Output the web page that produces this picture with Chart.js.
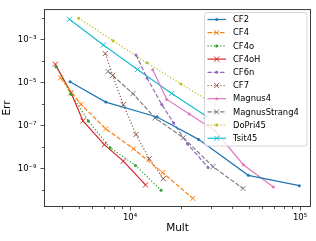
<!DOCTYPE html>
<html><head><meta charset="utf-8">
<script src="https://cdn.jsdelivr.net/npm/chart.js@4/dist/chart.umd.min.js"></script>
<style>html,body{margin:0;padding:0;background:#fff;}#c{display:block;}</style>
</head><body>
<canvas id="c" width="316" height="241"></canvas>
<script>
// ---- data ----
const seriesNames = ['CF2','CF4','CF4o','CF4oH','CF6n','CF7','Magnus4','MagnusStrang4','DoPri45','Tsit45'];
const cf2Mult  = [4437, 7196, 14417, 25293, 49640, 99060];
const cf2Err   = [1.1e-5, 1.24e-6, 2.53e-7, 2.3e-8, 4.93e-10, 1.63e-10];
const cf4Mult  = [3901, 5150, 7196, 10486, 15574, 23377];
const cf4Err   = [1.65e-5, 9.7e-7, 7.1e-8, 8.4e-9, 6.6e-10, 4.2e-11];
const cf4oMult = [3671, 4497, 5685, 7627, 10775, 15219];
const cf4oErr  = [5.29e-5, 2.88e-6, 1.66e-7, 9.53e-9, 1.42e-9, 1.01e-10];
const cf4oHMult= [3636, 4497, 5290, 7061, 9133, 12337];
const cf4oHErr = [7.1e-5, 3.38e-6, 1.66e-7, 1.31e-8, 2.24e-9, 1.77e-10];
const cf6nMult = [10847, 12589, 15364, 18027, 21785, 28765];
const cf6nErr  = [1.92e-4, 1.62e-5, 9.7e-7, 1.34e-7, 1.41e-8, 1.15e-9];
const cf7Mult  = [7147, 7912, 9133, 10847, 12970, 15701];
const cf7Err   = [2.2e-4, 2.15e-5, 9.3e-7, 3.89e-8, 2.88e-9, 3.48e-10];
const magnus4Mult = [13600, 16443, 22323, 31623, 46390, 69660];
const magnus4Err  = [3.93e-5, 1.65e-6, 3.47e-7, 5.76e-8, 1.53e-9, 1.43e-10];
const magnusStrang4Mult = [7424, 10414, 14033, 20583, 30770, 46200];
const magnusStrang4Err  = [3.28e-5, 3.04e-6, 2.28e-7, 2.75e-8, 1.24e-9, 1.21e-10];
const doPri45Mult = [4992, 7943, 12589, 19953, 31623];
const doPri45Err  = [9.6e-3, 8.7e-4, 8.24e-5, 8.57e-6, 9.5e-7];
const tsit45Mult  = [4396, 6966, 11069, 17592, 28000];
const tsit45Err   = [8.65e-3, 5.54e-4, 4.06e-5, 3.1e-6, 2.81e-7];
const xMajorTicks = [1e4, 1e5];
const yMajorTicks = [1e-3, 1e-5, 1e-7, 1e-9];
const xMinorTicks = [4e3,5e3,6e3,7e3,8e3,9e3,2e4,3e4,4e4,5e4,6e4,7e4,8e4,9e4];
const yMinorTicks = [1e-2,1e-4,1e-6,1e-8,1e-10];

// ---- styling ----
const colors = ['#1f77b4','#ff7f0e','#2ca02c','#d62728','#9467bd','#8c564b','#e377c2','#7f7f7f','#bcbd22','#17becf'];
const LW = 1.2;
const dashes = {solid: [], dashed: [4.4, 1.9], dotted: [1.2, 2.0]};
const styles = ['solid','dashed','dotted','solid','dashed','dotted','solid','dashed','dotted','solid'];
const markers = ['dot','x','dot','x','dot','x','dot','x','dot','x'];
const xs = [cf2Mult, cf4Mult, cf4oMult, cf4oHMult, cf6nMult, cf7Mult, magnus4Mult, magnusStrang4Mult, doPri45Mult, tsit45Mult];
const ys = [cf2Err, cf4Err, cf4oErr, cf4oHErr, cf6nErr, cf7Err, magnus4Err, magnusStrang4Err, doPri45Err, tsit45Err];

function pointOpts(m, c) {
  if (m === 'dot') return {pointStyle:'circle', pointRadius:1.5, pointBackgroundColor:c, pointBorderColor:c, pointBorderWidth:0};
  return {pointStyle:'crossRot', pointRadius:3.6, pointBackgroundColor:c, pointBorderColor:c, pointBorderWidth:1.0};
}

const datasets = seriesNames.map((n, i) => Object.assign({
  label: n,
  data: xs[i].map((x, j) => ({x: x, y: ys[i][j]})),
  borderColor: colors[i],
  backgroundColor: colors[i],
  borderWidth: LW,
  borderDash: dashes[styles[i]],
  tension: 0,
  fill: false
}, pointOpts(markers[i], colors[i])));

const sup = {'-':'⁻','0':'⁰','1':'¹','2':'²','3':'³','4':'⁴','5':'⁵','6':'⁶','7':'⁷','8':'⁸','9':'⁹'};
function powLabel(v) {
  const e = Math.round(Math.log10(v));
  return '10' + String(e).split('').map(ch => sup[ch]).join('');
}

const FONT = 'DejaVu Sans';

const framePlugin = {
  id: 'frame',
  afterDraw(chart) {
    const ctx = chart.ctx, a = chart.chartArea;
    const xS = chart.scales.x, yS = chart.scales.y;
    ctx.save();
    ctx.strokeStyle = '#262626';
    ctx.lineWidth = 0.8;
    // minor ticks
    ctx.beginPath();
    xMinorTicks.forEach(v => {
      const p = Math.round(xS.getPixelForValue(v)) + 0.5;
      ctx.moveTo(p, a.bottom); ctx.lineTo(p, a.bottom + 2);
    });
    yMinorTicks.forEach(v => {
      const p = Math.round(yS.getPixelForValue(v)) + 0.5;
      ctx.moveTo(a.left, p); ctx.lineTo(a.left - 2, p);
    });
    ctx.stroke();
    // spines
    ctx.lineWidth = 0.9;
    ctx.strokeRect(a.left + 0.5, a.top + 0.5, a.right - a.left - 1, a.bottom - a.top - 1);
    // legend
    const lx = 204.5, ly = 12.5, lw = 102.5, lh = 133.5, r = 2.5;
    ctx.beginPath();
    ctx.moveTo(lx + r, ly);
    ctx.lineTo(lx + lw - r, ly); ctx.arcTo(lx + lw, ly, lx + lw, ly + r, r);
    ctx.lineTo(lx + lw, ly + lh - r); ctx.arcTo(lx + lw, ly + lh, lx + lw - r, ly + lh, r);
    ctx.lineTo(lx + r, ly + lh); ctx.arcTo(lx, ly + lh, lx, ly + lh - r, r);
    ctx.lineTo(lx, ly + r); ctx.arcTo(lx, ly, lx + r, ly, r);
    ctx.closePath();
    ctx.fillStyle = 'rgba(255,255,255,0.8)';
    ctx.fill();
    ctx.strokeStyle = 'rgba(204,204,204,0.8)';
    ctx.lineWidth = 1;
    ctx.stroke();
    chart.data.datasets.forEach((ds, i) => {
      const yy = 19.5 + i * 13.2;
      ctx.save();
      ctx.strokeStyle = ds.borderColor;
      ctx.lineWidth = LW;
      ctx.setLineDash(ds.borderDash);
      ctx.beginPath(); ctx.moveTo(207.5, yy); ctx.lineTo(226, yy); ctx.stroke();
      ctx.setLineDash([]);
      ctx.fillStyle = ds.borderColor;
      ctx.strokeStyle = ds.borderColor;
      ctx.lineWidth = ds.pointBorderWidth || 1;
      if (ds.pointStyle === 'circle') { ctx.beginPath(); ctx.arc(216.7, yy, ds.pointRadius, 0, Math.PI*2); ctx.fill(); }
      else { const o = ds.pointRadius*0.7071; ctx.beginPath(); ctx.moveTo(216.7-o, yy-o); ctx.lineTo(216.7+o, yy+o); ctx.moveTo(216.7-o, yy+o); ctx.lineTo(216.7+o, yy-o); ctx.stroke(); }
      ctx.restore();
      ctx.fillStyle = '#000';
      ctx.font = '8.4px "' + FONT + '"';
      ctx.textBaseline = 'middle';
      ctx.textAlign = 'left';
      ctx.fillText(ds.label, 233, yy + 0.5);
    });
    ctx.restore();
  }
};

new Chart(document.getElementById('c'), {
  type: 'line',
  data: {datasets: datasets},
  options: {
    responsive: false,
    animation: false,
    devicePixelRatio: 1,
    layout: {padding: {left: 0, right: 5, top: 7, bottom: 0}},
    plugins: {legend: {display: false}, tooltip: {enabled: false}},
    scales: {
      x: {
        type: 'logarithmic', position: 'bottom',
        min: 3119, max: 116000,
        afterBuildTicks: s => { s.ticks = xMajorTicks.map(v => ({value: v, major: true})); },
        afterFit: s => { s.height = 34; },
        ticks: {callback: v => powLabel(v), autoSkip: false, maxRotation: 0, color: '#000', padding: 2, font: {family: FONT, size: 8.5}},
        grid: {display: true, drawOnChartArea: false, drawTicks: true, tickLength: 3.5, color: '#262626', tickWidth: 0.8},
        border: {display: false},
        title: {display: true, text: 'Mult', color: '#000', font: {family: FONT, size: 10.5}, padding: {top: 0, bottom: 6.5}}
      },
      y: {
        type: 'logarithmic', position: 'left',
        min: 1.67e-11, max: 0.0257,
        afterBuildTicks: s => { s.ticks = yMajorTicks.map(v => ({value: v, major: true})); },
        afterFit: s => { s.width = 44; },
        ticks: {callback: v => powLabel(v), autoSkip: false, color: '#000', padding: 4, font: {family: FONT, size: 8.5}},
        grid: {display: true, drawOnChartArea: false, drawTicks: true, tickLength: 3.5, color: '#262626', tickWidth: 0.8},
        border: {display: false},
        title: {display: true, text: 'Err', color: '#000', font: {family: FONT, size: 10.5}, padding: {top: 1, bottom: 0}}
      }
    }
  },
  plugins: [framePlugin]
});
</script>
</body></html>
